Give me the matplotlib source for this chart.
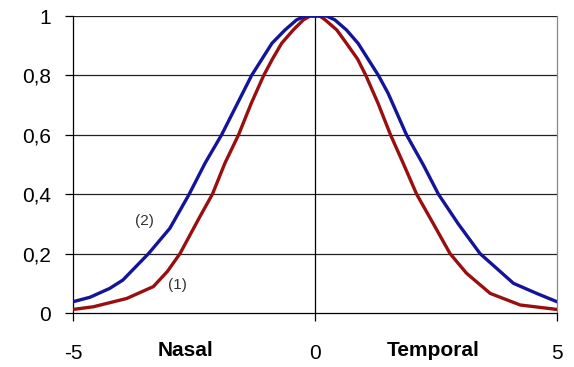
import matplotlib.pyplot as plt

plt.rcParams['font.family'] = ['Liberation Sans', 'DejaVu Sans']

# ---------- data ----------
# curve (2): wider, blue
x2 = [-5.0, -4.65, -4.24, -3.97, -3.44, -3.0, -2.6, -2.27, -1.93, -1.62, -1.31,
      -0.89, -0.62, -0.38, -0.2, 0.24, 0.41, 0.65, 0.89, 1.31,
      1.51, 1.89, 2.24, 2.55, 2.96, 3.41, 4.10, 4.58, 5.0]
y2 = [0.038, 0.053, 0.083, 0.111, 0.2, 0.285, 0.4, 0.505, 0.6, 0.70, 0.8,
      0.908, 0.953, 0.987, 1.0, 1.0, 0.987, 0.953, 0.908, 0.8,
      0.74, 0.6, 0.498, 0.4, 0.30, 0.2, 0.10, 0.066, 0.038]

# curve (1): narrower, dark red
x1 = [-5.0, -4.58, -3.89, -3.34, -3.05, -2.79, -2.38, -2.12, -1.86, -1.58, -1.32,
      -1.06, -0.88, -0.69, -0.45, -0.24, -0.10, 0.10, 0.21, 0.45, 0.65, 0.88,
      1.05, 1.30, 1.56, 1.82, 2.10, 2.44, 2.79, 3.13, 3.62, 4.24, 5.0]
y1 = [0.012, 0.021, 0.049, 0.089, 0.14, 0.2, 0.324, 0.4, 0.505, 0.6, 0.705,
      0.8, 0.855, 0.908, 0.953, 0.987, 1.0, 1.0, 0.987, 0.953, 0.908, 0.855,
      0.8, 0.707, 0.6, 0.505, 0.4, 0.302, 0.2, 0.134, 0.066, 0.027, 0.012]

y_ticks = [0, 0.2, 0.4, 0.6, 0.8, 1]
y_labels = ['0', '0,2', '0,4', '0,6', '0,8', '1']
x_ticks = [-5, 0, 5]
x_labels = ['-5', '0', '5']

# ---------- plot ----------
fig = plt.figure(figsize=(5.74, 3.67), dpi=100)
ax = fig.add_axes([0.1272, 0.1471, 0.8432, 0.8093])

for yv in y_ticks[1:]:
    ax.axhline(yv, color='#222222', lw=0.9, zorder=1)
ax.axvline(0, color='black', lw=0.9, zorder=1)

ax.plot(x1, y1, color='#990f0f', lw=2.4, zorder=3, solid_joinstyle='round')
ax.plot(x2, y2, color='#14149a', lw=2.4, zorder=4, solid_joinstyle='round')

ax.set_xlim(-5, 5)
ax.set_ylim(0, 1)
ax.set_yticks(y_ticks)
ax.set_yticklabels(y_labels)
ax.set_xticks(x_ticks)
ax.set_xticklabels(x_labels)
ax.tick_params(axis='y', length=6, width=0.9, pad=10, labelsize=15)
ax.tick_params(axis='x', length=6, width=0.9, pad=16, labelsize=15)

for s in ['left', 'bottom']:
    ax.spines[s].set_color('black')
    ax.spines[s].set_linewidth(0.9)
ax.spines['top'].set_visible(False)
ax.spines['right'].set_color('#888888')
ax.spines['right'].set_linewidth(0.9)

# axis side labels and curve labels
ax.text(-2.67, -0.125, 'Nasal', ha='center', va='center', fontsize=15,
        fontweight='bold')
ax.text(2.44, -0.125, 'Temporal', ha='center', va='center', fontsize=15,
        fontweight='bold')
ax.text(-3.52, 0.31, '(2)', ha='center', va='center', fontsize=11,
        color='#333333')
ax.text(-2.85, 0.095, '(1)', ha='center', va='center', fontsize=11,
        color='#333333')

plt.savefig('out.png', dpi=100)
